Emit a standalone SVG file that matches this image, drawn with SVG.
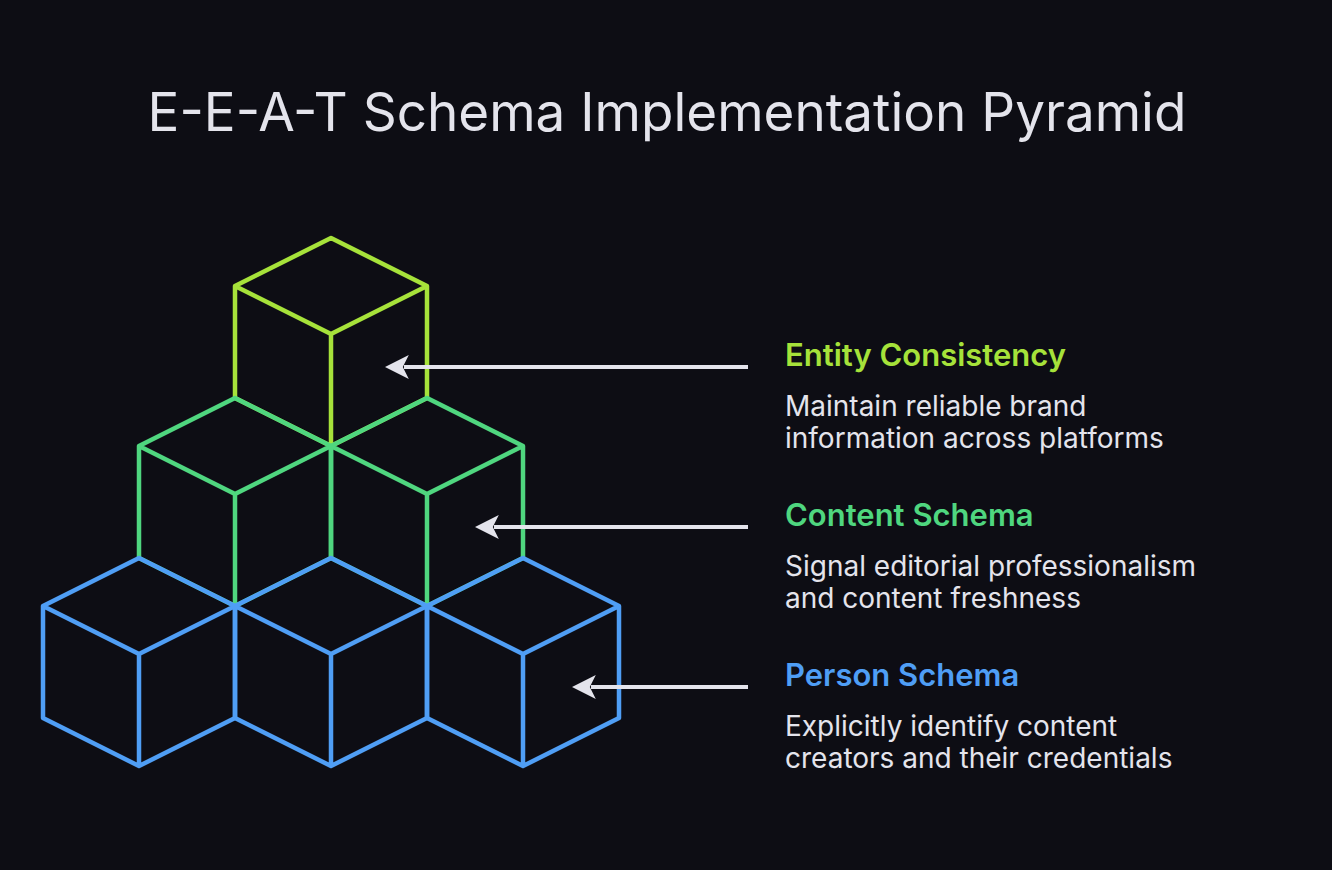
<svg xmlns="http://www.w3.org/2000/svg" width="1332" height="870" viewBox="0 0 1332 870">
<defs>
<style>
.c{fill:none;stroke-width:4.5;stroke-linejoin:round}
.t1{stroke:#a6e23a}.t2{stroke:#4fd67f}.t3{stroke:#4f9ef5}
.h{font-family:Inter,"Noto Sans",sans-serif;font-weight:600;font-size:31px}
.d{font-family:Inter,"Noto Sans",sans-serif;font-size:28px;fill:#e4e4ec}
.a{stroke:#e4e4ec;stroke-width:4}
</style>
<marker id="ar" viewBox="0 0 10 10" refX="2" refY="5" markerWidth="24" markerHeight="24" markerUnits="userSpaceOnUse" orient="auto"><path d="M0,0 L10,5 L0,10 L2.5,5 Z" fill="#e4e4ec"/></marker>
<g id="cube"><path d="M0,0 L96,48 L96,160 L0,208 L-96,160 L-96,48 Z M-96,48 L0,96 L96,48 M0,96 L0,208"/></g>
</defs>
<rect width="1332" height="870" fill="#0d0d14"/>
<text x="667" y="131" text-anchor="middle" font-family="Inter,'Noto Sans',sans-serif" font-size="53" fill="#e4e4ec">E-E-A-T Schema Implementation Pyramid</text>
<g id="top-cube"><use href="#cube" x="331" y="238" class="c t1"/></g>
<g id="mid-cubes"><use href="#cube" x="235" y="398" class="c t2"/><use href="#cube" x="427" y="398" class="c t2"/></g>
<g id="bottom-cubes"><use href="#cube" x="139" y="558" class="c t3"/><use href="#cube" x="331" y="558" class="c t3"/><use href="#cube" x="523" y="558" class="c t3"/></g>
<g id="connectors">
<line x1="748" y1="367" x2="404" y2="367" class="a" marker-end="url(#ar)"/>
<line x1="748" y1="527" x2="494" y2="527" class="a" marker-end="url(#ar)"/>
<line x1="748" y1="687" x2="591" y2="687" class="a" marker-end="url(#ar)"/>
</g>
<g id="entity"><text x="785" y="366" class="h" fill="#a6e23a">Entity Consistency</text>
<text x="785" y="416" class="d">Maintain reliable brand</text><text x="785" y="448" class="d">information across platforms</text></g>
<g id="content"><text x="785" y="526" class="h" fill="#4fd67f">Content Schema</text>
<text x="785" y="576" class="d">Signal editorial professionalism</text><text x="785" y="608" class="d">and content freshness</text></g>
<g id="person"><text x="785" y="686" class="h" fill="#4f9ef5">Person Schema</text>
<text x="785" y="736" class="d">Explicitly identify content</text><text x="785" y="768" class="d">creators and their credentials</text></g>
</svg>
